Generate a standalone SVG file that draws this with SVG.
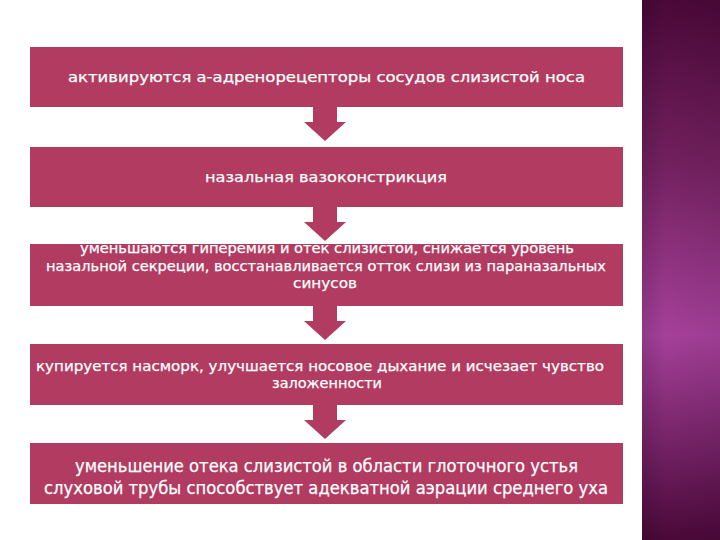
<svg xmlns="http://www.w3.org/2000/svg" width="720" height="540" viewBox="0 0 720 540">
<defs>
<linearGradient id="panel" x1="0" y1="0" x2="0" y2="1">
<stop offset="0" stop-color="#4a0838"/>
<stop offset="0.3" stop-color="#72205e"/>
<stop offset="0.62" stop-color="#a5409a"/>
<stop offset="1" stop-color="#4a0838"/>
</linearGradient>
<linearGradient id="panelH" x1="0" y1="0" x2="1" y2="0">
<stop offset="0" stop-color="#000" stop-opacity="0.12"/>
<stop offset="0.3" stop-color="#000" stop-opacity="0"/>
<stop offset="1" stop-color="#000" stop-opacity="0.05"/>
</linearGradient>
<path id="arr" d="M-12,0 H12 V15 H21 L0,34 L-21,15 H-12 Z"/>
</defs>
<style>
.box{fill:#b23b61}
.arrow{fill:#b23b61}
text{font-family:"DejaVu Sans","Liberation Sans",sans-serif;fill:#ffffff;font-size:14.5px;stroke:#ffffff;stroke-width:0.25}
.big{font-size:17px}
</style>
<rect width="720" height="540" fill="#ffffff"/>
<rect x="642" y="0" width="78" height="540" fill="url(#panel)"/>
<rect x="642" y="0" width="78" height="540" fill="url(#panelH)"/>
<g id="connectors">
<use href="#arr" class="arrow" x="325" y="107"/>
<use href="#arr" class="arrow" x="325" y="207"/>
<use href="#arr" class="arrow" x="325" y="306"/>
<use href="#arr" class="arrow" x="325" y="405"/>
</g>
<g id="node1">
<rect class="box" x="30" y="47" width="593" height="60"/>
<text x="68" y="82" textLength="517" lengthAdjust="spacingAndGlyphs">активируются а-адренорецепторы сосудов слизистой носа</text>
</g>
<g id="node2">
<rect class="box" x="30" y="147" width="593" height="60"/>
<text x="205" y="182" textLength="242" lengthAdjust="spacingAndGlyphs">назальная вазоконстрикция</text>
</g>
<g id="node3">
<rect class="box" x="30" y="244" width="593" height="62"/>
<text x="80" y="253" textLength="494" lengthAdjust="spacingAndGlyphs">уменьшаются гиперемия и отек слизистой, снижается уровень</text>
<text x="46" y="271" textLength="560" lengthAdjust="spacingAndGlyphs">назальной секреции, восстанавливается отток слизи из параназальных</text>
<text x="293" y="288" textLength="64" lengthAdjust="spacingAndGlyphs">синусов</text>
</g>
<g id="node4">
<rect class="box" x="30" y="344" width="593" height="61"/>
<text x="36" y="371" textLength="568" lengthAdjust="spacingAndGlyphs">купируется насморк, улучшается носовое дыхание и исчезает чувство</text>
<text x="272" y="388" textLength="110" lengthAdjust="spacingAndGlyphs">заложенности</text>
</g>
<g id="node5">
<rect class="box" x="30" y="443" width="593" height="61"/>
<text class="big" x="75" y="472" textLength="503" lengthAdjust="spacingAndGlyphs">уменьшение отека слизистой в области глоточного устья</text>
<text class="big" x="44" y="494" textLength="564" lengthAdjust="spacingAndGlyphs">слуховой трубы способствует адекватной аэрации среднего уха</text>
</g>
</svg>
